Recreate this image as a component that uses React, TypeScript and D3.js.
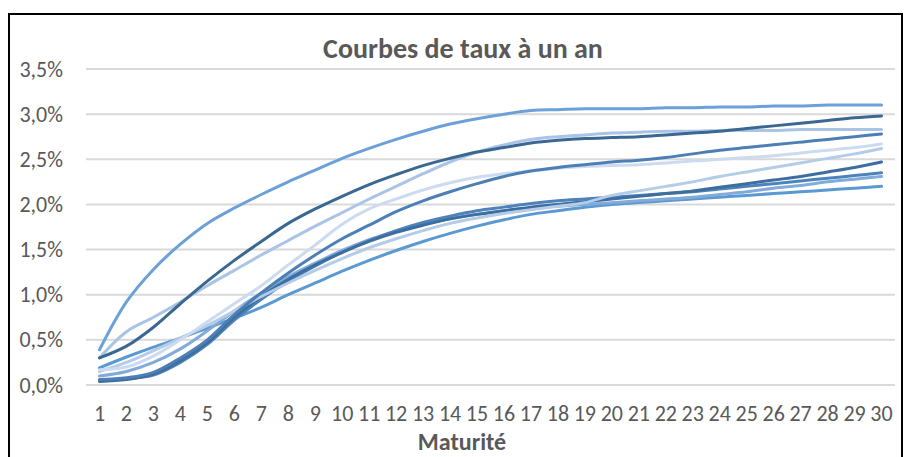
import React from "react";
import * as d3 from "d3";

const maturities: number[] = d3.range(1, 31);
const yTicks: number[] = [0, 0.5, 1.0, 1.5, 2.0, 2.5, 3.0, 3.5];

const serieA = [0.39, 0.92, 1.28, 1.56, 1.79, 1.96, 2.11, 2.25, 2.38, 2.51, 2.62, 2.72, 2.81, 2.89, 2.95, 3.00, 3.04, 3.05, 3.06, 3.06, 3.06, 3.07, 3.07, 3.08, 3.08, 3.09, 3.09, 3.10, 3.10, 3.10];
const serieB = [0.30, 0.43, 0.64, 0.90, 1.15, 1.38, 1.59, 1.79, 1.95, 2.09, 2.22, 2.33, 2.43, 2.51, 2.58, 2.63, 2.68, 2.71, 2.73, 2.74, 2.75, 2.77, 2.79, 2.81, 2.84, 2.87, 2.90, 2.93, 2.96, 2.98];
const serieC = [0.30, 0.59, 0.75, 0.92, 1.10, 1.27, 1.44, 1.60, 1.76, 1.91, 2.06, 2.20, 2.34, 2.47, 2.58, 2.66, 2.72, 2.75, 2.77, 2.79, 2.80, 2.81, 2.81, 2.82, 2.82, 2.82, 2.83, 2.83, 2.83, 2.83];
const serieD = [0.06, 0.08, 0.14, 0.30, 0.50, 0.78, 1.02, 1.24, 1.44, 1.62, 1.77, 1.92, 2.04, 2.14, 2.23, 2.31, 2.37, 2.41, 2.44, 2.47, 2.49, 2.52, 2.56, 2.60, 2.63, 2.66, 2.69, 2.72, 2.75, 2.78];
const serieE = [0.17, 0.20, 0.32, 0.50, 0.70, 0.90, 1.10, 1.33, 1.55, 1.78, 1.95, 2.06, 2.16, 2.24, 2.30, 2.34, 2.37, 2.40, 2.42, 2.43, 2.44, 2.46, 2.48, 2.50, 2.52, 2.54, 2.57, 2.60, 2.63, 2.67];
const serieF = [0.15, 0.25, 0.38, 0.52, 0.66, 0.82, 0.98, 1.13, 1.27, 1.40, 1.52, 1.62, 1.71, 1.79, 1.85, 1.90, 1.94, 1.98, 2.02, 2.10, 2.15, 2.20, 2.25, 2.31, 2.36, 2.41, 2.46, 2.51, 2.56, 2.62];
const serieG = [0.04, 0.06, 0.12, 0.27, 0.47, 0.75, 0.98, 1.17, 1.33, 1.47, 1.59, 1.69, 1.77, 1.84, 1.89, 1.93, 1.97, 2.00, 2.03, 2.06, 2.09, 2.12, 2.15, 2.19, 2.23, 2.27, 2.31, 2.36, 2.41, 2.47];
const serieH = [0.05, 0.07, 0.11, 0.25, 0.45, 0.72, 0.95, 1.15, 1.32, 1.47, 1.60, 1.71, 1.80, 1.87, 1.93, 1.97, 2.01, 2.04, 2.06, 2.08, 2.10, 2.12, 2.14, 2.17, 2.20, 2.23, 2.26, 2.29, 2.32, 2.35];
const serieI = [0.10, 0.15, 0.25, 0.40, 0.60, 0.82, 1.02, 1.20, 1.35, 1.49, 1.61, 1.70, 1.78, 1.84, 1.89, 1.93, 1.96, 1.98, 2.00, 2.02, 2.04, 2.06, 2.08, 2.11, 2.14, 2.18, 2.21, 2.25, 2.28, 2.31];
const serieJ = [0.19, 0.31, 0.42, 0.52, 0.63, 0.74, 0.86, 1.00, 1.13, 1.26, 1.38, 1.49, 1.59, 1.68, 1.76, 1.83, 1.89, 1.93, 1.97, 2.00, 2.02, 2.04, 2.06, 2.08, 2.10, 2.12, 2.14, 2.16, 2.18, 2.20];

const seriesList = [
  { values: serieJ, color: "#5B99D2" },
  { values: serieI, color: "#80ABDA" },
  { values: serieH, color: "#4C83BD" },
  { values: serieG, color: "#3D6E9E" },
  { values: serieF, color: "#B5CCE9" },
  { values: serieE, color: "#CCDBEF" },
  { values: serieD, color: "#4C7FB5" },
  { values: serieC, color: "#A9C4E6" },
  { values: serieB, color: "#3A6892" },
  { values: serieA, color: "#6CA0D8" },
];

const W = 906;
const H = 457;
const plotLeft = 86;
const plotRight = 895;
const plotTop = 69;
const plotBottom = 385;
const FONT = "Carlito, Calibri, Lato, 'Liberation Sans', sans-serif";
const TXT = "#595959";

export default function App() {
  const x = d3.scaleBand<number>().domain(maturities).range([plotLeft, plotRight]);
  const y = d3.scaleLinear().domain([0, 3.5]).range([plotBottom, plotTop]);
  const line = d3
    .line<number>()
    .x((_, i) => (x(maturities[i]) as number) + x.bandwidth() / 2)
    .y((v) => y(v))
    .curve(d3.curveCatmullRom.alpha(0.5));

  return (
    <svg
      width={W}
      height={H}
      style={{ position: "absolute", left: 0, top: 0, background: "#fff" }}
      fontFamily={FONT}
    >
      <rect x={0} y={0} width={W} height={H} fill="#fff" />
      <rect x={9} y={14} width={893} height={470} fill="none" stroke="#000" strokeWidth={2} />
      <text x={463} y={48} textAnchor="middle" dominantBaseline="central" fontSize={28} fontWeight="bold" fill={TXT}>
        Courbes de taux à un an
      </text>
      {yTicks.map((t) => (
        <g key={t}>
          <line x1={plotLeft} x2={plotRight} y1={y(t)} y2={y(t)} stroke="#D9D9D9" strokeWidth={2} />
          <text x={63} y={y(t)} textAnchor="end" dominantBaseline="central" fontSize={22} fill={TXT}>
            {t.toFixed(1).replace(".", ",") + "%"}
          </text>
        </g>
      ))}
      {maturities.map((m) => (
        <text
          key={m}
          x={(x(m) as number) + x.bandwidth() / 2}
          y={413}
          textAnchor="middle"
          dominantBaseline="central"
          fontSize={22}
          fill={TXT}
        >
          {m}
        </text>
      ))}
      <text x={462} y={441} textAnchor="middle" dominantBaseline="central" fontSize={24} fontWeight="bold" fill={TXT}>
        Maturité
      </text>
      {seriesList.map((s, i) => (
        <path key={i} d={line(s.values) || ""} fill="none" stroke={s.color} strokeWidth={3} strokeLinecap="round" strokeLinejoin="round" />
      ))}
    </svg>
  );
}
